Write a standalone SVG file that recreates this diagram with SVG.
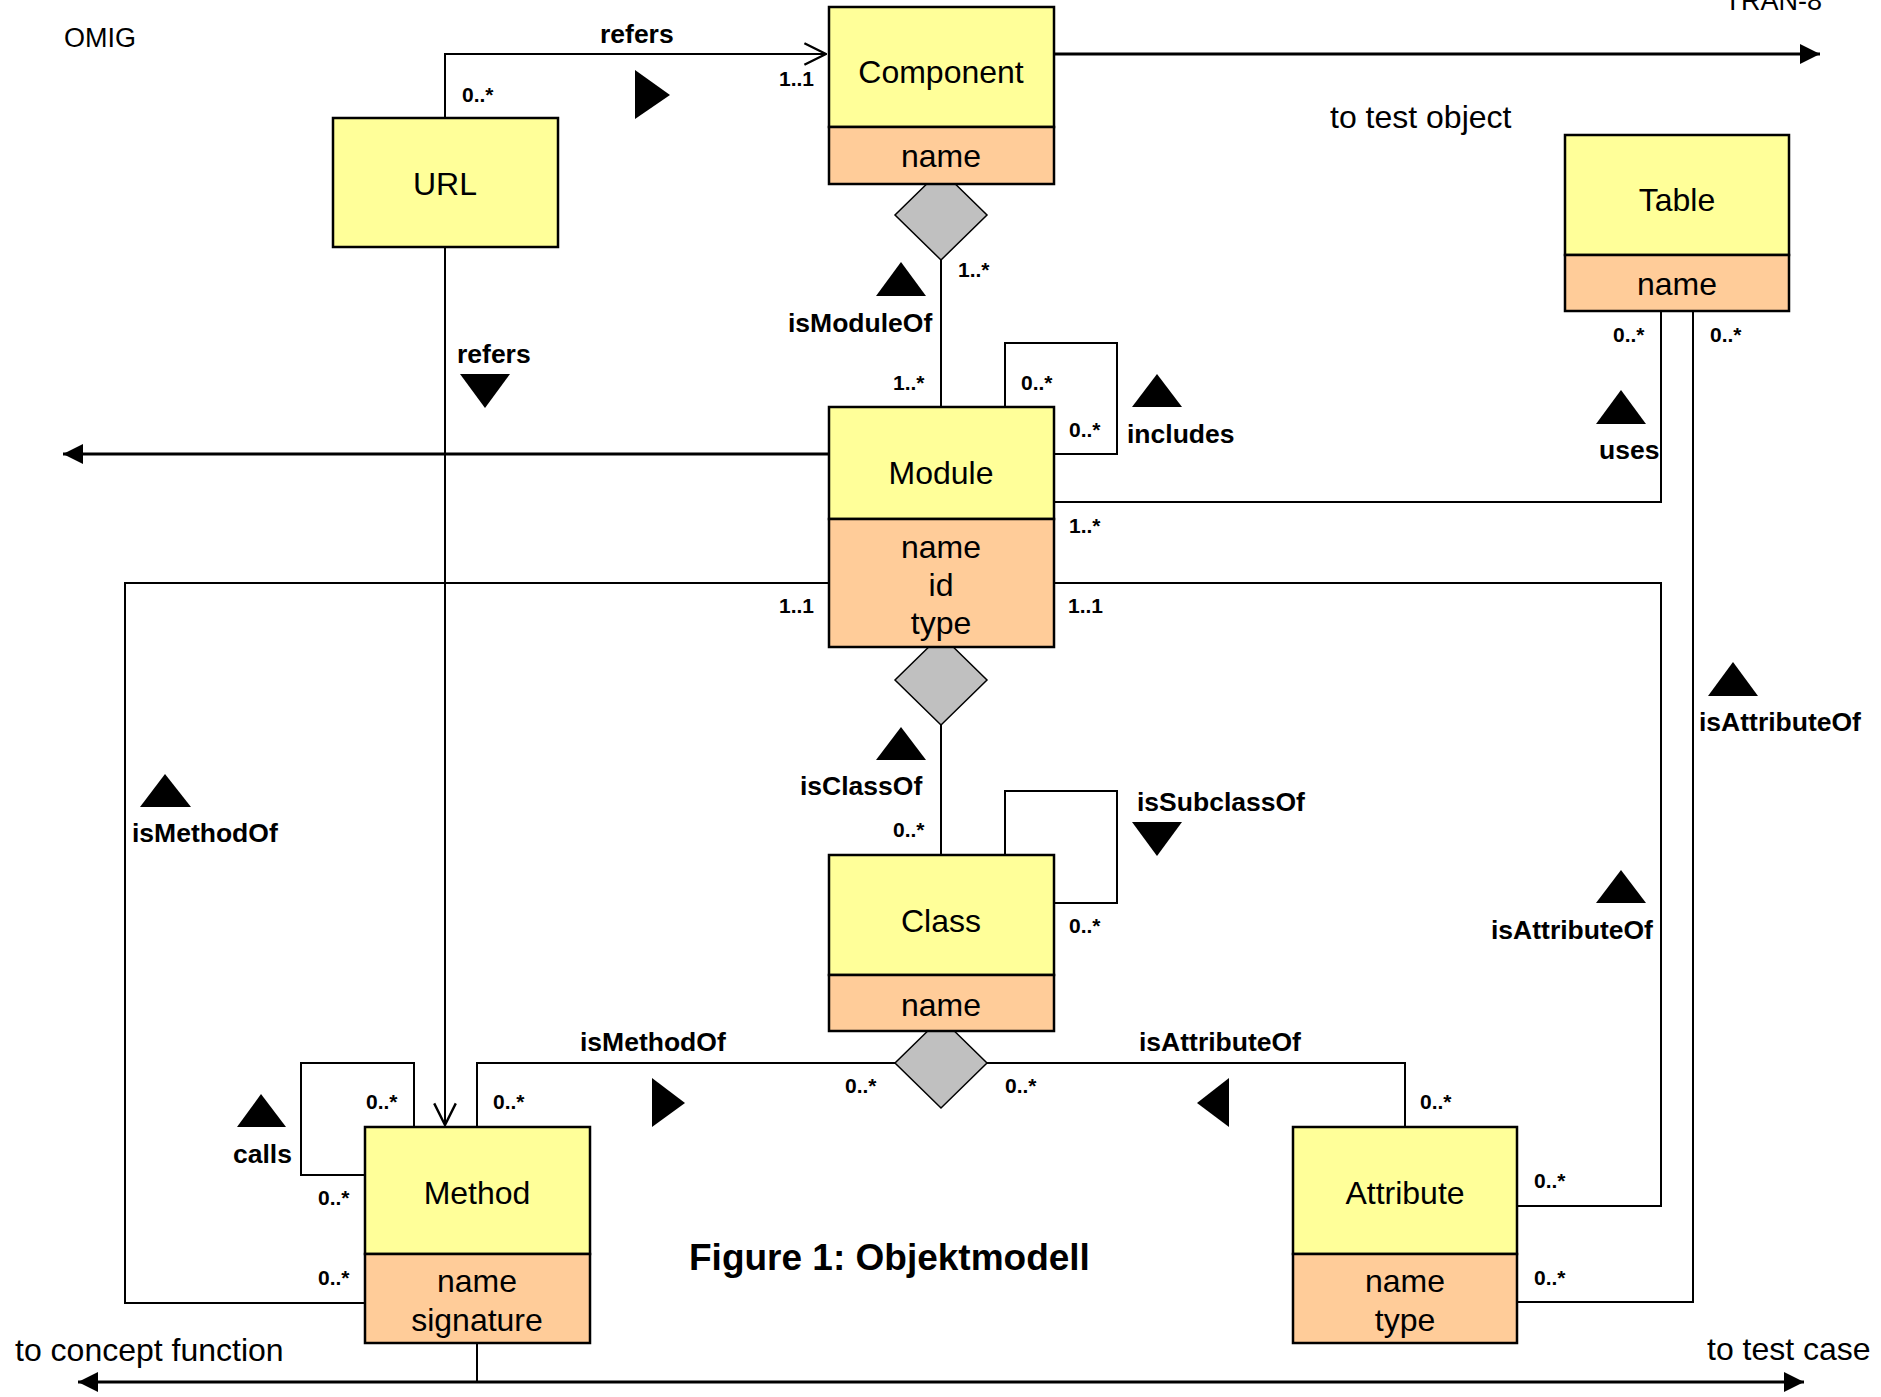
<svg xmlns="http://www.w3.org/2000/svg" width="1881" height="1397" viewBox="0 0 1881 1397">
<style>
text{font-family:"Liberation Sans",Arial,sans-serif;fill:#000}
.n{font-size:32px;text-anchor:middle}
.t{font-size:32px}
.lb{font-size:26.5px;font-weight:bold}
.m{font-size:21px;font-weight:bold}
.hd{fill:#FFFF99;stroke:#000;stroke-width:2.5}
.at{fill:#FFCC99;stroke:#000;stroke-width:2.5}
.c{fill:none;stroke:#000;stroke-width:2}
.big{fill:none;stroke:#000;stroke-width:3}
.dia{fill:#C0C0C0;stroke:#000;stroke-width:1.5}
.tri{fill:#000}
</style>
<defs>
<marker id="fa" markerUnits="userSpaceOnUse" markerWidth="20" markerHeight="20" refX="16" refY="8" orient="auto-start-reverse" viewBox="0 0 16 16"><path d="M0,0 L16,8 L0,16 Z" fill="#000"/></marker>
<marker id="oa" markerUnits="userSpaceOnUse" markerWidth="24" markerHeight="24" refX="19" refY="10" orient="auto" viewBox="0 0 20 20"><path d="M1,1 L19,10 L1,19" fill="none" stroke="#000" stroke-width="2"/></marker>
</defs>
<rect width="1881" height="1397" fill="#fff"/>
<text x="64" y="47" style="font-size:27px">OMIG</text>
<text x="1822" y="10" style="font-size:27px;text-anchor:end">TRAN-8</text>
<text class="t" x="1330" y="128">to test object</text>
<text class="t" x="15" y="1361">to concept function</text>
<text class="t" x="1707" y="1360">to test case</text>
<text x="689" y="1270" style="font-size:37px;font-weight:bold">Figure 1: Objektmodell</text>

<g id="connectors">
<path class="c" d="M445,118 V54 H826" marker-end="url(#oa)"/>
<path class="c" d="M445,247 V1125" marker-end="url(#oa)"/>
<path class="big" d="M1054,54 H1820" marker-end="url(#fa)"/>
<path class="big" d="M829,454 H63" marker-end="url(#fa)"/>
<path class="big" d="M78,1382 H1804" marker-start="url(#fa)" marker-end="url(#fa)"/>
<path class="c" d="M477,1343 V1382"/>
<path class="c" d="M941,260 V407"/>
<path class="c" d="M1005,407 V343 H1117 V454 H1054"/>
<path class="c" d="M1054,502 H1661 V311"/>
<path class="c" d="M1054,583 H1661 V1206 H1517"/>
<path class="c" d="M1693,311 V1302 H1517"/>
<path class="c" d="M829,583 H125 V1303 H365"/>
<path class="c" d="M941,725 V855"/>
<path class="c" d="M1005,855 V791 H1117 V903 H1054"/>
<path class="c" d="M895,1063 H477 V1127"/>
<path class="c" d="M987,1063 H1405 V1127"/>
<path class="c" d="M414,1127 V1063 H301 V1175 H365"/>
<polygon class="dia" points="941,170 987,215 941,260 895,215"/>
<polygon class="dia" points="941,635 987,680 941,725 895,680"/>
<polygon class="dia" points="941,1018 987,1063 941,1108 895,1063"/>
<polygon class="tri" points="635,70 670,95 635,119"/>
<polygon class="tri" points="460,374 510,374 485,408"/>
<polygon class="tri" points="876,296 926,296 901,262"/>
<polygon class="tri" points="1132,407 1182,407 1157,374"/>
<polygon class="tri" points="1596,424 1646,424 1621,390"/>
<polygon class="tri" points="1708,696 1758,696 1733,662"/>
<polygon class="tri" points="1596,903 1646,903 1621,870"/>
<polygon class="tri" points="140,807 191,807 165,774"/>
<polygon class="tri" points="876,760 926,760 901,727"/>
<polygon class="tri" points="1132,822 1182,822 1157,856"/>
<polygon class="tri" points="652,1078 685,1103 652,1127"/>
<polygon class="tri" points="1229,1078 1197,1103 1229,1127"/>
<polygon class="tri" points="237,1127 286,1127 261,1094"/>
<text class="lb" x="600" y="43">refers</text>
<text class="lb" x="457" y="363">refers</text>
<text class="lb" x="788" y="332">isModuleOf</text>
<text class="lb" x="1127" y="443">includes</text>
<text class="lb" x="1599" y="459">uses</text>
<text class="lb" x="1699" y="731">isAttributeOf</text>
<text class="lb" x="1491" y="939">isAttributeOf</text>
<text class="lb" x="132" y="842">isMethodOf</text>
<text class="lb" x="800" y="795">isClassOf</text>
<text class="lb" x="1137" y="811">isSubclassOf</text>
<text class="lb" x="580" y="1051">isMethodOf</text>
<text class="lb" x="1139" y="1051">isAttributeOf</text>
<text class="lb" x="233" y="1163">calls</text>
<text class="m" x="462" y="102">0..*</text>
<text class="m" x="779" y="86">1..1</text>
<text class="m" x="958" y="277">1..*</text>
<text class="m" x="893" y="390">1..*</text>
<text class="m" x="1021" y="390">0..*</text>
<text class="m" x="1069" y="437">0..*</text>
<text class="m" x="1069" y="533">1..*</text>
<text class="m" x="1613" y="342">0..*</text>
<text class="m" x="1710" y="342">0..*</text>
<text class="m" x="779" y="613">1..1</text>
<text class="m" x="1068" y="613">1..1</text>
<text class="m" x="893" y="837">0..*</text>
<text class="m" x="1069" y="933">0..*</text>
<text class="m" x="366" y="1109">0..*</text>
<text class="m" x="493" y="1109">0..*</text>
<text class="m" x="845" y="1093">0..*</text>
<text class="m" x="1005" y="1093">0..*</text>
<text class="m" x="1420" y="1109">0..*</text>
<text class="m" x="318" y="1205">0..*</text>
<text class="m" x="318" y="1285">0..*</text>
<text class="m" x="1534" y="1188">0..*</text>
<text class="m" x="1534" y="1285">0..*</text>
</g>

<g id="component">
<rect class="hd" x="829" y="7" width="225" height="120"/>
<rect class="at" x="829" y="127" width="225" height="57"/>
<text class="n" x="941" y="83">Component</text>
<text class="n" x="941" y="167">name</text>
</g>
<g id="url">
<rect class="hd" x="333" y="118" width="225" height="129"/>
<text class="n" x="445" y="195">URL</text>
</g>
<g id="table">
<rect class="hd" x="1565" y="135" width="224" height="120"/>
<rect class="at" x="1565" y="255" width="224" height="56"/>
<text class="n" x="1677" y="211">Table</text>
<text class="n" x="1677" y="295">name</text>
</g>
<g id="module">
<rect class="hd" x="829" y="407" width="225" height="112"/>
<rect class="at" x="829" y="519" width="225" height="128"/>
<text class="n" x="941" y="484">Module</text>
<text class="n" x="941" y="558">name</text>
<text class="n" x="941" y="596">id</text>
<text class="n" x="941" y="634">type</text>
</g>
<g id="class">
<rect class="hd" x="829" y="855" width="225" height="120"/>
<rect class="at" x="829" y="975" width="225" height="56"/>
<text class="n" x="941" y="932">Class</text>
<text class="n" x="941" y="1016">name</text>
</g>
<g id="method">
<rect class="hd" x="365" y="1127" width="225" height="127"/>
<rect class="at" x="365" y="1254" width="225" height="89"/>
<text class="n" x="477" y="1204">Method</text>
<text class="n" x="477" y="1292">name</text>
<text class="n" x="477" y="1331">signature</text>
</g>
<g id="attribute">
<rect class="hd" x="1293" y="1127" width="224" height="127"/>
<rect class="at" x="1293" y="1254" width="224" height="89"/>
<text class="n" x="1405" y="1204">Attribute</text>
<text class="n" x="1405" y="1292">name</text>
<text class="n" x="1405" y="1331">type</text>
</g>
</svg>
